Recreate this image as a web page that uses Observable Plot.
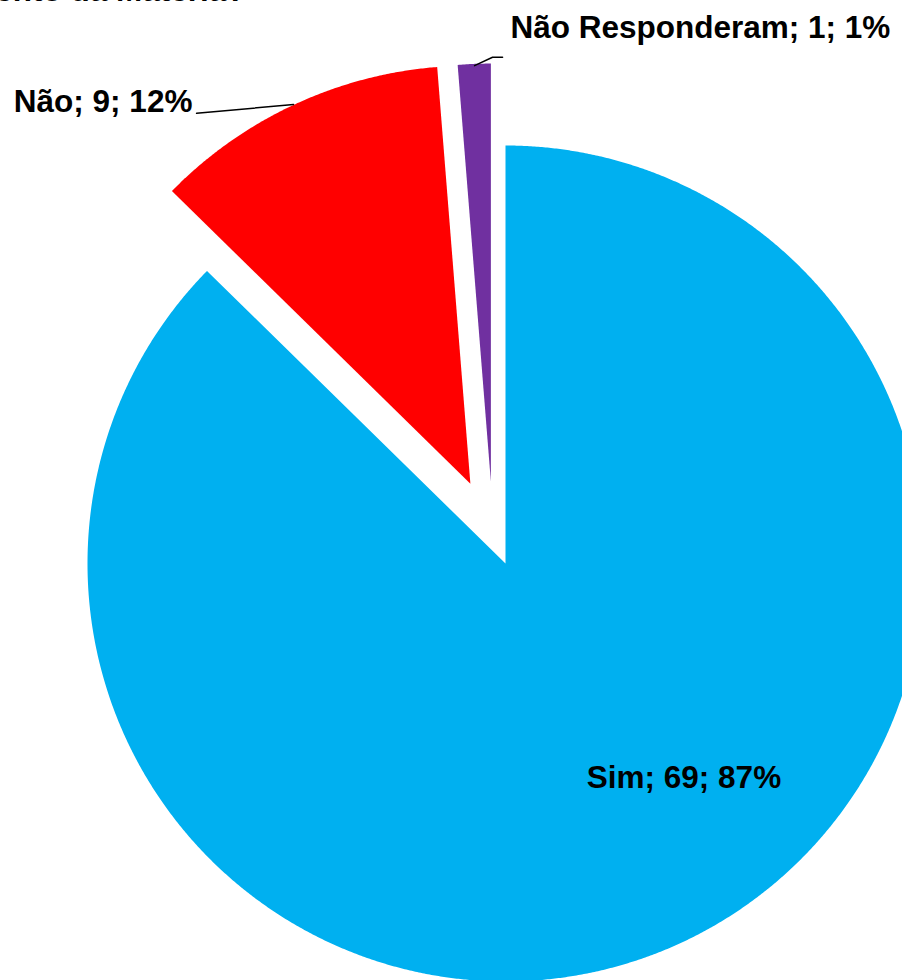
<!DOCTYPE html>
<html>
<head>
<meta charset="utf-8">
<script src="https://cdn.jsdelivr.net/npm/d3@7"></script>
<script src="https://cdn.jsdelivr.net/npm/@observablehq/plot@0.6"></script>
<style>
  html, body { margin: 0; padding: 0; background: #fff; overflow: hidden; }
  #chart svg { display: block; }
</style>
</head>
<body>
<div id="chart"></div>
<script>
// ---- data ----
const categories = ["Sim", "Não", "Não Responderam"];
const counts = [69, 9, 1];
const percents = ["87%", "12%", "1%"];
const titleText = "Você tem conhecimento da Matéria?";

// ---- styling / layout ----
const colors = ["#00B0F0", "#FF0000", "#7030A0"];
const explode = [[0, 0], [-0.084, 0.191], [-0.035, 0.196]]; // slice offsets, radius units
const W = 902, H = 980, R = 418, CX = 505, CY = 563;
const font = "'Liberation Sans', Arial, Helvetica, sans-serif";
const fs = 31.5;

const rows = categories.map((c, i) => ({cat: c, count: counts[i], pct: percents[i], color: colors[i], off: explode[i]}));
const arcs = d3.pie().sort(null).value(d => d.count)(rows);

function slicePoints(a) {
  const [ox, oy] = a.data.off;
  const pts = [{x: ox, y: oy}];
  const n = Math.max(8, Math.ceil((a.endAngle - a.startAngle) / (Math.PI / 720)));
  for (let k = 0; k <= n; k++) {
    const t = a.startAngle + (a.endAngle - a.startAngle) * k / n;
    pts.push({x: ox + Math.sin(t), y: oy + Math.cos(t)});
  }
  pts.push({x: ox, y: oy});
  return pts;
}

const labels = [
  {text: `${rows[0].cat}; ${rows[0].count}; ${rows[0].pct}`, x: 0.427, y: -0.536, anchor: "middle"},
  {text: `${rows[1].cat}; ${rows[1].count}; ${rows[1].pct}`, x: -0.749, y: 1.079, anchor: "end"},
  {text: `${rows[2].cat}; ${rows[2].count}; ${rows[2].pct}`, x: 0.012, y: 1.258, anchor: "start"}
];
const leaders = [
  [{x: -0.739, y: 1.077}, {x: -0.507, y: 1.098}],
  [{x: -0.074, y: 1.191}, {x: -0.031, y: 1.211}, {x: -0.007, y: 1.211}]
];

const marks = [];
arcs.forEach(a => {
  marks.push(Plot.line(slicePoints(a), {x: "x", y: "y", fill: a.data.color, stroke: "none", curve: "linear"}));
});
leaders.forEach(l => marks.push(Plot.line(l, {x: "x", y: "y", stroke: "#000", strokeWidth: 1.5})));
labels.forEach(l => marks.push(Plot.text([l], {
  x: "x", y: "y", text: "text", textAnchor: l.anchor, lineAnchor: "bottom",
  fontSize: fs, fontWeight: "bold", fontFamily: font, fill: "#000"
})));
marks.push(Plot.text([{x: -0.622, y: 1.345, text: titleText}], {
  x: "x", y: "y", text: "text", textAnchor: "end", lineAnchor: "bottom",
  fontSize: fs, fontWeight: "bold", fontFamily: font, fill: "#000"
}));

const chart = Plot.plot({
  width: W,
  height: H,
  margin: 0,
  style: {background: "#fff", fontFamily: font, overflow: "hidden"},
  x: {domain: [-CX / R, (W - CX) / R], axis: null},
  y: {domain: [(CY - H) / R, CY / R], axis: null},
  marks
});
document.getElementById("chart").append(chart);
</script>
</body>
</html>
